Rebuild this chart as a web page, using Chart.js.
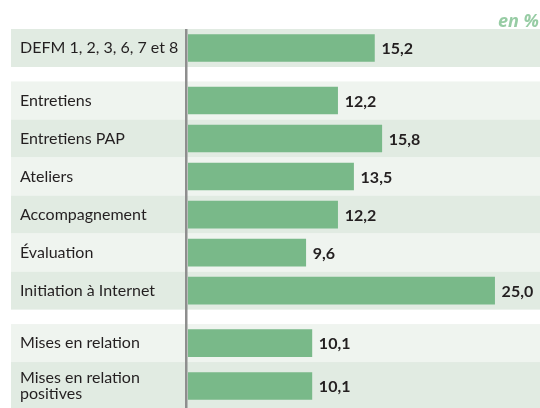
<!DOCTYPE html>
<html>
<head>
<meta charset="utf-8">
<script src="https://cdn.jsdelivr.net/npm/chart.js@4/dist/chart.umd.min.js"></script>
<style>
  html, body { margin: 0; padding: 0; background: #fff; overflow: hidden; }
  #wrap { width: 540px; height: 408px; overflow: hidden; }
</style>
</head>
<body>
<div id="wrap"><canvas id="chart" width="540" height="410"></canvas></div>
<script>
// données
const labels = ['DEFM 1, 2, 3, 6, 7 et 8', 'Entretiens', 'Entretiens PAP', 'Ateliers', 'Accompagnement', 'Évaluation', 'Initiation à Internet', 'Mises en relation', ['Mises en relation', 'positives']];
const values = [15.2, 12.2, 15.8, 13.5, 12.2, 9.6, 25.0, 10.1, 10.1];
const groups = [0, 1, 1, 1, 1, 1, 1, 2, 2];
const unitLabel = 'en %';

// mise en page des lignes (en unités de ligne)
const GAP = 0.38, TALL = 1.26;
let cursor = 0;
const rows = labels.map((l, i) => {
    if (i > 0 && groups[i] !== groups[i - 1]) cursor += GAP;
    const h = Array.isArray(l) ? TALL : 1;
    const r = { top: cursor, bottom: cursor + h, center: cursor + h / 2 };
    cursor += h;
    return r;
});

const FONT = '"Lato", "Open Sans", sans-serif';

const tablePlugin = {
    id: 'table',
    beforeDatasetsDraw(chart) {
        const ctx = chart.ctx, y = chart.scales.y;
        ctx.save();
        rows.forEach((r, i) => {
            ctx.fillStyle = i % 2 === 0 ? '#e1ebe2' : '#eff4ef';
            const t = y.getPixelForValue(r.top), b = y.getPixelForValue(r.bottom);
            ctx.fillRect(11, t, 540 - 11, b - t);
        });
        ctx.fillStyle = '#8e8e8e';
        ctx.fillRect(185, chart.chartArea.top, 2.5, chart.chartArea.bottom - chart.chartArea.top);
        ctx.restore();
    },
    afterDatasetsDraw(chart) {
        const ctx = chart.ctx, x = chart.scales.x, y = chart.scales.y;
        ctx.save();
        ctx.textBaseline = 'middle';
        rows.forEach((r, i) => {
            const cy = y.getPixelForValue(r.center);
            ctx.fillStyle = '#231f20';
            ctx.font = '16px ' + FONT;
            ctx.textAlign = 'left';
            const lines = Array.isArray(labels[i]) ? labels[i] : [labels[i]];
            lines.forEach((t, k) => {
                ctx.fillText(t, 20, cy + (k - (lines.length - 1) / 2) * 16);
            });
            ctx.font = 'bold 16px ' + FONT;
            ctx.fillText(values[i].toFixed(1).replace('.', ','), x.getPixelForValue(values[i]) + 7, cy + 1);
        });
        ctx.font = 'italic bold 18px "Open Sans", sans-serif';
        ctx.fillStyle = '#97cca4';
        ctx.textAlign = 'right';
        ctx.textBaseline = 'alphabetic';
        ctx.fillText(unitLabel, 539, 27);
        ctx.restore();
    }
};

new Chart(document.getElementById('chart'), {
    type: 'bar',
    data: {
        datasets: [{
            data: values.map((v, i) => ({ x: v, y: rows[i].center })),
            backgroundColor: '#79b989',
            borderWidth: 0,
            barThickness: 27
        }]
    },
    options: {
        indexAxis: 'y',
        responsive: false,
        animation: false,
        layout: { padding: { left: 188, top: 29, right: 0, bottom: 0 } },
        scales: {
            x: { type: 'linear', min: 0, max: 28.7, display: false },
            y: { type: 'linear', min: 0, max: cursor, reverse: true, offset: false, display: false }
        },
        plugins: { legend: { display: false }, tooltip: { enabled: false } }
    },
    plugins: [tablePlugin]
});
</script>
</body>
</html>
